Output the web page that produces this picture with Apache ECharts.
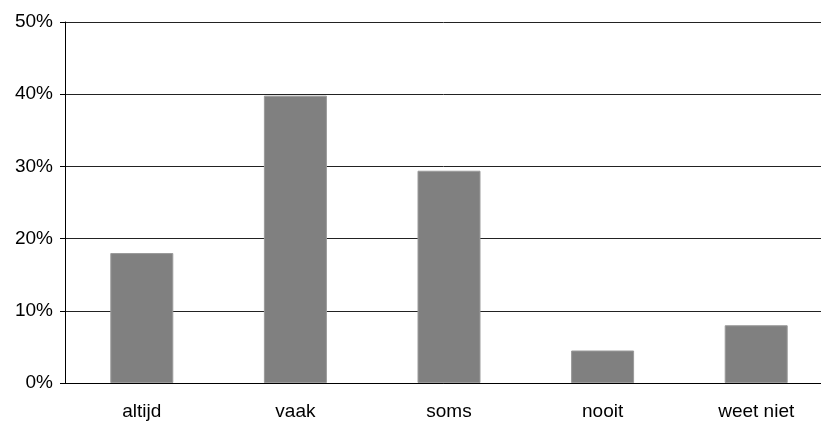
<!DOCTYPE html>
<html>
<head>
<meta charset="utf-8">
<script src="https://cdn.jsdelivr.net/npm/echarts@6/dist/echarts.min.js"></script>
<style>
  html, body { margin: 0; padding: 0; background: #fff; }
  #chart { width: 821px; height: 421px; }
</style>
</head>
<body>
<div id="chart"></div>
<script>
// Answer categories and their share of respondents (%)
const categories = ['altijd', 'vaak', 'soms', 'nooit', 'weet niet'];
const shares = [18.0, 39.8, 29.4, 4.5, 8.0];

const chart = echarts.init(document.getElementById('chart'), null, { renderer: 'canvas' });

chart.setOption({
  animation: false,
  backgroundColor: '#ffffff',
  grid: {
    left: 65, top: 22, width: 768, height: 361,
    containLabel: false,
    outerBoundsMode: 'none'
  },
  xAxis: {
    type: 'category',
    data: categories,
    axisLine: { show: true, lineStyle: { color: '#000', width: 1 } },
    axisTick: { show: false },
    axisLabel: {
      color: '#000',
      fontFamily: 'Liberation Sans, Arial, sans-serif',
      fontSize: 19,
      margin: 19
    },
    splitLine: { show: false }
  },
  yAxis: {
    type: 'value',
    min: 0,
    max: 50,
    interval: 10,
    axisLine: { show: true, lineStyle: { color: '#000', width: 1 } },
    axisTick: { show: true, inside: false, length: 5, lineStyle: { color: '#000' } },
    axisLabel: {
      color: '#000',
      fontFamily: 'Liberation Sans, Arial, sans-serif',
      fontSize: 19,
      margin: 12,
      formatter: '{value}%'
    },
    splitLine: { show: true, lineStyle: { color: '#222', width: 1 } }
  },
  series: [{
    type: 'bar',
    data: shares,
    barWidth: 63,
    itemStyle: { color: '#808080', borderColor: '#9a9a9a', borderWidth: 1 }
  }]
});
</script>
</body>
</html>
